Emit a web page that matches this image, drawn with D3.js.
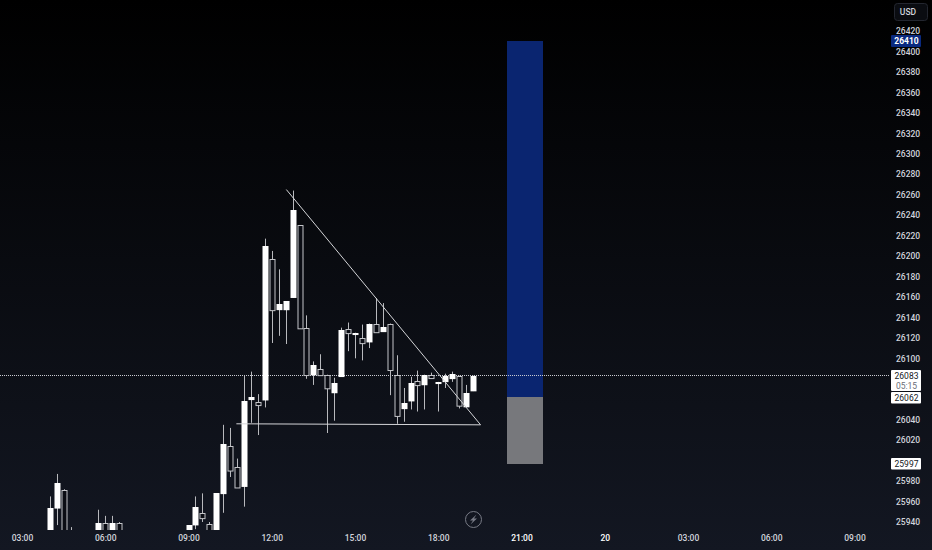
<!DOCTYPE html>
<html>
<head>
<meta charset="utf-8">
<script src="https://cdn.jsdelivr.net/npm/d3@7"></script>
<style>
  html, body { margin: 0; padding: 0; background: #000; overflow: hidden; }
  svg { display: block; }
  text { font-family: Roboto, "Liberation Sans", sans-serif; }
</style>
</head>
<body>
<div id="chart"></div>
<script>
// 15 minute bars, counted from the first 03:00 on the time axis
const bars   = [4,5,6,7,11,12,13,14,24,25,26,27,28,29,30,31,32,33,34,35,36,37,38,39,40,41,42,43,44,45,46,47,48,49,50,51,52,53,54,55,56,57,58,59,60,61,62,63,64,65];
const opens  = [25927,25953,25971,25926,25927,25939,25927,25939,25927,25937,25949,25938,25927,25967,26014,25994,25974,26059,26057,26059,26197,26147,26147,26159,26230,26130,26083,26090,26084,26066,26082,26129,26123,26120,26116,26134,26126,26134,26084,26050,26058,26078,26074,26084,26075,26077,26080,26083,26052,26068];
const highs  = [25965,25987,25972,25935,25952,25946,25946,25940,25937,25965,25968,25940,25968,26035,26032,26002,26083,26087,26065,26217,26205,26187,26156,26264,26230,26142,26097,26104,26084,26081,26130,26135,26125,26133,26134,26159,26154,26134,26103,26071,26082,26088,26084,26086,26077,26085,26087,26083,26074,26083];
const lows   = [25927,25937,25927,25925,25927,25927,25927,25927,25927,25933,25940,25927,25927,25949,25984,25974,25955,26037,26025,26052,26115,26122,26114,26159,26129,26080,26074,26084,26027,26039,26082,26107,26100,26098,26110,26126,26126,26064,26036,26038,26050,26048,26050,26080,26048,26071,26077,26051,26052,26068];
const closes = [25954,25978,25927,25925,25939,25927,25939,25927,25937,25955,25944,25927,25968,26016,25990,25974,26058,26062,26054,26210,26147,26153,26156,26245,26129,26084,26093,26084,26071,26076,26128,26125,26125,26115,26134,26126,26131,26089,26044,26056,26076,26074,26084,26081,26077,26083,26085,26054,26066,26083];

// 26000, 26060 and 26080 sit behind the price labels
const priceTicks = [25940,25960,25980,26020,26040,26100,26120,26140,26160,26180,26200,26220,26240,26260,26280,26300,26320,26340,26360,26380,26400,26420];
const timeTickBars = [0,12,24,36,48,60,72,84,96,108,120];
const timeTickLabels = ["03:00","06:00","09:00","12:00","15:00","18:00","21:00","20","03:00","06:00","09:00"];
const strongLabels = ["21:00","20"];

// trendlines: [bar, price] ends
const fallingLine = [[38.1,26265],[66.1,26035]];
const supportLine = [[30.9,26036],[66.1,26035]];

// long position tool
const toolBars = [69.9,75.1];
const toolTarget = 26410, toolEntry = 26062, toolStop = 25997;
const lastPrice = 26083;
const countdown = "05:15";

const width = 932, height = 550;
const paneRight = 890, paneBottom = 530;

const x = d3.scaleLinear().domain([0,120]).range([22,854.5]);
const y = d3.scaleLinear().domain([25940,26420]).range([522,31]);

const svg = d3.select("#chart").append("svg")
    .attr("width", width)
    .attr("height", height);

const defs = svg.append("defs");
const grad = defs.append("linearGradient")
    .attr("id", "bg")
    .attr("x1", 0).attr("x2", 0).attr("y1", 0).attr("y2", 1);
grad.append("stop").attr("offset", "0%").attr("stop-color", "#000000");
grad.append("stop").attr("offset", "100%").attr("stop-color", "#131722");

defs.append("clipPath").attr("id", "pane")
  .append("rect")
    .attr("width", paneRight)
    .attr("height", paneBottom);

svg.append("rect")
    .attr("width", width)
    .attr("height", height)
    .attr("fill", "url(#bg)");

const pane = svg.append("g").attr("clip-path", "url(#pane)");

// position tool
const toolLeft = Math.round(x(toolBars[0])), toolRight = Math.round(x(toolBars[1]));
pane.append("rect")
    .attr("x", toolLeft)
    .attr("y", Math.round(y(toolTarget)))
    .attr("width", toolRight - toolLeft)
    .attr("height", Math.round(y(toolEntry)) - Math.round(y(toolTarget)))
    .attr("fill", "#0a2570");
pane.append("rect")
    .attr("x", toolLeft)
    .attr("y", Math.round(y(toolEntry)))
    .attr("width", toolRight - toolLeft)
    .attr("height", Math.round(y(toolStop)) - Math.round(y(toolEntry)))
    .attr("fill", "#77787c");

// last price line
pane.append("line")
    .attr("x1", 0)
    .attr("x2", paneRight)
    .attr("y1", Math.floor(y(lastPrice)) + 0.5)
    .attr("y2", Math.floor(y(lastPrice)) + 0.5)
    .attr("stroke", "#c9cbd2")
    .attr("stroke-dasharray", "1,1");

// candles
const candle = pane.selectAll("g.candle")
  .data(bars.map((b, i) => ({b, o: opens[i], h: highs[i], l: lows[i], c: closes[i]})))
  .join("g")
    .attr("class", "candle");

candle.append("line")
    .attr("x1", d => Math.round(x(d.b)) + 0.5)
    .attr("x2", d => Math.round(x(d.b)) + 0.5)
    .attr("y1", d => y(d.h))
    .attr("y2", d => y(d.l))
    .attr("stroke", "#b8b9bd");

candle.append("rect")
    .attr("x", d => Math.round(x(d.b)) - 2 + (d.c >= d.o ? -0.5 : 0))
    .attr("y", d => Math.round(y(Math.max(d.o, d.c))) + (d.c >= d.o ? 0 : 0.5))
    .attr("width", d => d.c >= d.o ? 6 : 5)
    .attr("height", d => Math.max(d.c >= d.o ? 2 : 1, Math.abs(y(d.o) - y(d.c))))
    .attr("fill", d => d.c >= d.o ? "#ffffff" : "#0b0d14")
    .attr("stroke", d => d.c >= d.o ? "none" : "#c4c5c9");

// trendlines
const line = d3.line().x(d => x(d[0])).y(d => y(d[1]));
[fallingLine, supportLine].forEach(pts => {
  pane.append("path")
      .attr("d", line(pts))
      .attr("fill", "none")
      .attr("stroke", "#d4d5d8")
      .attr("stroke-width", 1);
});

// price axis
const yAxis = d3.axisRight(y).tickValues(priceTicks).tickSize(0).tickPadding(0).tickFormat(d3.format("d"));
svg.append("g")
    .attr("transform", "translate(896,0)")
    .call(yAxis)
    .call(g => g.select(".domain").remove())
    .call(g => g.selectAll("text")
        .attr("fill", "#d1d4dc")
        .attr("font-size", 8.5)
        .attr("font-weight", 500)
        .style("font-family", "Roboto, sans-serif"));

// time axis
const xAxis = d3.axisBottom(x).tickValues(timeTickBars).tickSize(0).tickPadding(0)
    .tickFormat((d, i) => timeTickLabels[i]);
svg.append("g")
    .attr("transform", "translate(0,535)")
    .call(xAxis)
    .call(g => g.select(".domain").remove())
    .call(g => g.selectAll("text")
        .attr("fill", t => strongLabels.includes(timeTickLabels[timeTickBars.indexOf(t)]) ? "#ffffff" : "#d1d4dc")
        .attr("font-size", 8.5)
        .attr("font-weight", 500)
        .style("font-family", "Roboto, sans-serif"));

// price labels
function priceLabel(price, top, h, fill, color, weight) {
  svg.append("rect")
      .attr("x", 891).attr("y", top)
      .attr("width", 30).attr("height", h)
      .attr("rx", 1)
      .attr("fill", fill);
  svg.append("text")
      .attr("x", 906.5)
      .attr("y", top + 8.8)
      .attr("text-anchor", "middle")
      .attr("font-size", 8.5)
      .attr("font-weight", weight)
      .attr("fill", color)
      .text(price);
}
priceLabel(toolTarget, 35, 12, "#0a2a80", "#ffffff", 700);
priceLabel(lastPrice, 370, 21, "#ffffff", "#131722", 400);
svg.append("text")
    .attr("x", 906.5).attr("y", 388.5)
    .attr("text-anchor", "middle")
    .attr("font-size", 8.5)
    .attr("fill", "#6a6d78")
    .text(countdown);
priceLabel(toolEntry, 392, 11.5, "#ffffff", "#131722", 400);
priceLabel(toolStop, 458, 11.5, "#ffffff", "#131722", 400);

// currency button
svg.append("rect")
    .attr("x", 894.5).attr("y", 3.5)
    .attr("width", 33).attr("height", 17)
    .attr("rx", 3)
    .attr("fill", "#0a0c11")
    .attr("stroke", "#23262f");
svg.append("text")
    .attr("x", 908).attr("y", 15)
    .attr("text-anchor", "middle")
    .attr("font-size", 8.5)
    .attr("font-weight", 500)
    .attr("fill", "#d1d4dc")
    .text("USD");

// market status icon
const icon = svg.append("g").attr("transform", "translate(473.5,519.5)");
icon.append("circle")
    .attr("r", 8)
    .attr("fill", "none")
    .attr("stroke", "#787b86");
icon.append("path")
    .attr("d", "M3,-5 L-3.5,1 L-0.5,1 L-3,5 L3.5,-1 L0.5,-1 Z")
    .attr("fill", "#787b86");
</script>
</body>
</html>
